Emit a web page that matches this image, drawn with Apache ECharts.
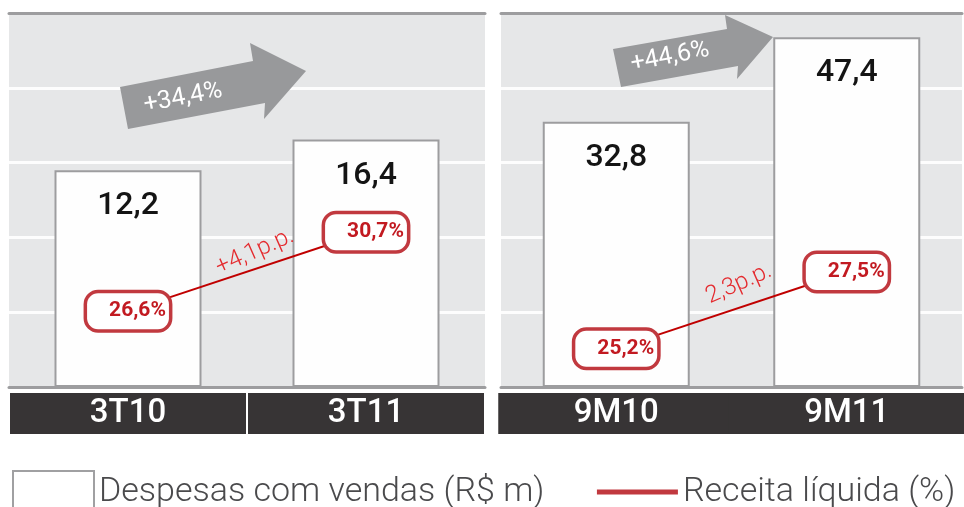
<!DOCTYPE html>
<html>
<head>
<meta charset="utf-8">
<title>Despesas com vendas</title>
<script src="https://cdn.jsdelivr.net/npm/echarts@6/dist/echarts.min.js"></script>
<style>
  html, body { margin: 0; padding: 0; background: #fff; }
  #chart { width: 964px; height: 507px; }
</style>
</head>
<body>
<div id="chart"></div>
<script>
// dados do gráfico
var trimestres = ['3T10', '3T11'];
var acumulados = ['9M10', '9M11'];
var despesasTri = [12.2, 16.4];     // R$ m
var despesasAcum = [32.8, 47.4];    // R$ m
var receitaTri = [26.6, 30.7];      // % da receita líquida
var receitaAcum = [25.2, 27.5];
var variacaoTri = '+34,4%';
var variacaoAcum = '+44,6%';
var ppTri = '+4,1p.p.';
var ppAcum = '2,3p.p.';
var nomeBarra = 'Despesas com vendas (R$ m)';
var nomeLinha = 'Receita líquida (%)';

var fonte = 'Roboto';
var cinzaFundo = '#e6e7e8';
var cinzaBorda = '#9d9d9f';
var vermelho = '#c00000';

function br(v) {
  return v.toFixed(1).replace('.', ',');
}

function eixoCategoria(grid, dados) {
  return {
    type: 'category', gridIndex: grid, data: dados, position: 'bottom',
    axisLine: { onZero: false, lineStyle: { color: cinzaBorda, width: 3 } },
    axisTick: { show: false },
    axisLabel: {
      interval: 0, margin: 6,
      color: '#fff', fontFamily: fonte, fontSize: 33, fontWeight: 500,
      backgroundColor: '#373435', width: 236, height: 41, lineHeight: 41,
      align: 'center', verticalAlign: 'top'
    }
  };
}

function eixoTopo(grid, dados) {
  return {
    type: 'category', gridIndex: grid, data: dados, position: 'top',
    axisLine: { onZero: false, lineStyle: { color: cinzaBorda, width: 3 } },
    axisTick: { show: false }, axisLabel: { show: false }
  };
}

function eixoGrade(grid) {
  return {
    type: 'value', gridIndex: grid, min: 0, max: 5, interval: 1,
    axisLine: { show: false }, axisTick: { show: false }, axisLabel: { show: false },
    splitLine: { lineStyle: { color: '#fdfdfd', width: 3 } }
  };
}

function serieBarra(xi, yi, dados) {
  return {
    type: 'bar', name: nomeBarra, xAxisIndex: xi, yAxisIndex: yi, data: dados,
    barWidth: 147,
    itemStyle: { color: '#fefefe', borderColor: cinzaBorda, borderWidth: 2 },
    label: {
      show: true, position: 'insideTop', distance: 20,
      fontFamily: fonte, fontSize: 32, fontWeight: 500, color: '#141414',
      formatter: function (p) { return br(p.value); }
    }
  };
}

function serieLinha(xi, yi, dados) {
  return {
    type: 'line', name: nomeLinha, xAxisIndex: xi, yAxisIndex: yi, data: dados,
    symbol: 'circle', symbolSize: 1, z: 4,
    itemStyle: { color: vermelho },
    lineStyle: { color: vermelho, width: 2 },
    label: {
      show: true, position: 'inside',
      fontFamily: fonte, fontSize: 21, fontWeight: 'bold', color: '#c21a21',
      backgroundColor: '#fff', borderColor: '#c1393f', borderWidth: 3.5, borderRadius: 11,
      padding: [10, 3, 5, 22],
      formatter: function (p) { return br(p.value) + '%'; }
    }
  };
}

var myChart = echarts.init(document.getElementById('chart'));

var option = {
  animation: false,
  grid: [
    { left: 9, top: 13, width: 476, height: 374, show: true, backgroundColor: cinzaFundo, borderWidth: 0 },
    { left: 501, top: 13, width: 476, height: 374, show: true, backgroundColor: cinzaFundo, borderWidth: 0 }
  ],
  xAxis: [
    eixoCategoria(0, trimestres), eixoTopo(0, trimestres),
    eixoCategoria(1, acumulados), eixoTopo(1, acumulados)
  ],
  yAxis: [
    { type: 'value', gridIndex: 0, show: false, min: -17.4, max: 33.7, startValue: -17.4 },
    { type: 'value', gridIndex: 0, show: false, min: 22.66, max: 42.09 },
    eixoGrade(0),
    { type: 'value', gridIndex: 1, show: false, min: -13.0, max: 51.6, startValue: -13.0 },
    { type: 'value', gridIndex: 1, show: false, min: 24.05, max: 35.27 },
    eixoGrade(1)
  ],
  legend: {
    left: 7, top: 465, itemWidth: 81, itemHeight: 42, itemGap: 50,
    textStyle: { fontFamily: fonte, fontSize: 34, fontWeight: 300, color: '#4a4a4c' },
    data: [
      { name: nomeBarra, icon: 'rect', itemStyle: { color: '#fff', borderColor: '#a0a0a2', borderWidth: 2 } },
      { name: nomeLinha, itemStyle: { color: 'rgba(0,0,0,0)', borderWidth: 0 }, lineStyle: { color: '#c1393f', width: 5 } }
    ]
  },
  graphic: [
    // setas de variação
    { type: 'polygon', z: 10, shape: { points: [[120, 87], [128, 129], [265, 103], [264, 119], [306, 71], [250, 43], [253, 61]] }, style: { fill: '#98999b' } },
    { type: 'text', z: 11, x: 183, y: 98, rotation: 11 * Math.PI / 180,
      style: { text: variacaoTri, fill: '#fff', font: '400 25px Roboto', align: 'center', verticalAlign: 'middle' } },
    { type: 'polygon', z: 10, shape: { points: [[613, 49], [621, 87], [738, 66], [737, 79], [773, 37], [725, 15], [727, 29]] }, style: { fill: '#98999b' } },
    { type: 'text', z: 11, x: 670, y: 57, rotation: 11 * Math.PI / 180,
      style: { text: variacaoAcum, fill: '#fff', font: '400 25px Roboto', align: 'center', verticalAlign: 'middle' } },
    // p.p.
    { type: 'text', z: 11, x: 255, y: 252, rotation: 24 * Math.PI / 180,
      style: { text: ppTri, fill: '#e42a2e', font: '300 24px Roboto', align: 'center', verticalAlign: 'middle' } },
    { type: 'text', z: 11, x: 739, y: 284, rotation: 24 * Math.PI / 180,
      style: { text: ppAcum, fill: '#e42a2e', font: '300 24px Roboto', align: 'center', verticalAlign: 'middle' } }
  ],
  series: [
    serieBarra(0, 0, despesasTri),
    serieLinha(0, 1, receitaTri),
    serieBarra(2, 3, despesasAcum),
    serieLinha(2, 4, receitaAcum)
  ]
};

myChart.setOption(option);
</script>
</body>
</html>
